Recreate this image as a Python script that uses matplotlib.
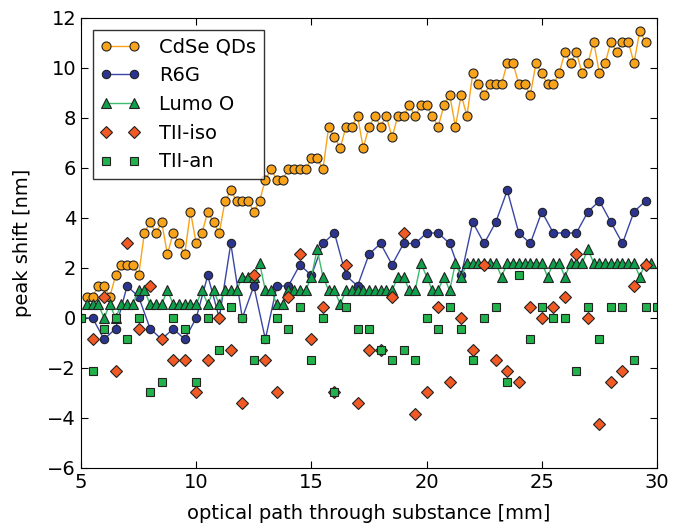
import numpy as np
import matplotlib
matplotlib.use("Agg")
import matplotlib.pyplot as plt

# optical path positions [mm] (regular sampling grids of the measurement)
x_cdse = np.arange(5.25, 29.51, 0.25)
x_lumo = np.arange(5.25, 29.76, 0.25)
x_r6g = np.arange(5.0, 29.51, 0.5)
x_iso = np.arange(5.5, 29.51, 0.5)
x_an = np.arange(5.0, 30.01, 0.5)

# peak shift [nm]
cdse = [0.85, 0.85, 1.28, 1.28, 0.85, 1.7, 2.13, 2.13,
        2.13, 1.7, 3.4, 3.83, 3.4, 3.83, 2.55, 3.4,
        2.98, 2.55, 4.25, 2.98, 3.4, 4.25, 3.83, 3.4,
        4.68, 5.1, 4.68, 4.68, 4.68, 4.25, 4.68, 5.53,
        5.95, 5.53, 5.53, 5.95, 5.95, 5.95, 5.95, 6.38,
        6.38, 5.95, 7.65, 7.23, 6.8, 7.65, 7.65, 8.08,
        6.8, 7.65, 8.08, 7.65, 8.08, 7.23, 8.08, 8.08,
        8.5, 8.08, 8.5, 8.5, 8.08, 7.65, 8.5, 8.93,
        7.65, 8.93, 8.08, 9.78, 9.35, 8.93, 9.35, 9.35,
        9.35, 10.2, 10.2, 9.35, 9.35, 8.93, 10.2, 9.78,
        9.35, 9.35, 9.78, 10.63, 10.2, 10.63, 9.78, 10.2,
        11.05, 9.78, 10.2, 11.05, 10.63, 11.05, 11.05, 10.2,
        11.48, 11.05]

r6g = [0, 0, -0.85, -0.43, 1.28, 0.85, -0.43, -0.85, -0.43, -0.85,
       0, 1.7, 0, 2.98, 0, 1.28, -0.85, 1.28, 1.28, 2.13,
       1.7, 2.98, 3.4, 1.7, 1.28, 2.55, 2.98, 2.13, 2.98, 2.98,
       3.4, 3.4, 2.98, 1.7, 3.83, 2.98, 3.83, 5.1, 3.4, 2.98,
       4.25, 3.4, 3.4, 3.4, 4.25, 4.68, 3.83, 2.98, 4.25, 4.68]

lumo = [0.55, 0.55, 0.55, 0, 0.55, 0, 0.55, 0.55,
        0.55, 1.1, 1.1, 0.55, 0.55, 0.55, 1.1, 0.55,
        0.55, 0.55, 0.55, 0.55, 1.1, 0.55, 1.1, 0.55,
        1.1, 1.1, 1.1, 1.65, 1.65, 1.65, 2.2, 1.1,
        1.1, 0.55, 0.55, 1.1, 1.1, 1.1, 1.1, 1.65,
        2.75, 1.65, 1.1, 1.1, 0.55, 1.1, 1.1, 1.1,
        1.1, 1.1, 1.1, 1.1, 1.1, 1.1, 1.65, 1.65,
        1.1, 1.1, 2.2, 1.65, 1.1, 1.1, 1.65, 1.1,
        2.2, 1.65, 2.2, 2.2, 2.2, 2.2, 2.2, 2.2,
        1.65, 2.2, 2.2, 2.2, 2.2, 2.2, 2.2, 2.2,
        1.65, 2.2, 2.2, 1.65, 2.2, 2.2, 2.2, 2.75,
        2.2, 2.2, 2.2, 2.2, 2.2, 2.2, 2.2, 2.2,
        1.65, 2.2, 2.2]

tii_iso = [-0.85, 0.85, -2.13, 2.98, -0.43, 1.28, -0.85, -1.7, -1.7, -2.98,
           -1.7, 0, -1.28, -3.4, 1.7, -1.7, -2.98, 0.85, 2.55, -0.85,
           0.43, -2.98, 2.13, -3.4, -1.28, -1.28, 0.85, 3.4, -3.83, -2.98,
           0.43, -2.55, 0, -1.28, 2.13, -1.7, -2.13, -2.55, 0.43, 0,
           0.43, 0.85, 2.55, 0, -4.25, -2.55, -2.13, 1.28, 2.13]

tii_an = [0, -2.13, -0.43, 0, -0.85, 0, -2.98, -2.55, 0, -0.43,
          -2.55, 0, -1.28, 0.43, 0, -1.7, -0.85, 0, -0.43, 0.43,
          -1.7, 0, -2.98, 0.43, -0.43, -0.43, -1.28, -1.7, -1.28, -1.7,
          0, -0.43, 0.43, -0.43, -1.7, 0, 0.43, -2.55, 1.7, -0.85,
          0.43, 0, 0, -2.13, 0.43, -0.85, 0.43, 0.43, -1.7, 0.43,
          0.43]

plt.rcParams['font.size'] = 14

fig = plt.figure(figsize=(6.89, 5.23), dpi=100)
ax = fig.add_axes([0.1176, 0.1052, 0.836, 0.8604])

ax.plot(x_cdse, cdse, '-o', color='#f9a31b', mfc='#f9a31b', mec='#222222',
        mew=0.8, ms=6.5, lw=1.0, label='CdSe QDs')
ax.plot(x_r6g, r6g, '-o', color='#3a46a6', mfc='#2b3590', mec='#222222',
        mew=0.8, ms=6, lw=1.0, label='R6G')
ax.plot(x_lumo, lumo, '-^', color='#3dbb6e', mfc='#0fa04c', mec='#222222',
        mew=0.8, ms=7, lw=1.0, label='Lumo O')
ax.plot(x_iso, tii_iso, 'D', color='#f15a24', mec='#222222',
        mew=0.8, ms=6, label='TII-iso')
ax.plot(x_an, tii_an, 's', color='#22b24c', mec='#222222',
        mew=0.8, ms=6, label='TII-an')

ax.set_xlim(5, 30)
ax.set_ylim(-6, 12)
ax.set_xticks(range(5, 31, 5))
ax.set_yticks(range(-6, 13, 2))
ax.tick_params(direction='in', top=True, right=True, length=5, labelsize=14)
ax.set_xlabel('optical path through substance [mm]', fontsize=14, labelpad=9)
ax.set_ylabel('peak shift [nm]', fontsize=14, labelpad=11)

leg = ax.legend(loc='upper left', numpoints=2, fontsize=14, fancybox=False,
                handlelength=2.0, handletextpad=1.0, labelspacing=0.5,
                borderaxespad=0.6)
leg.get_frame().set_edgecolor('black')
leg.get_frame().set_linewidth(1.0)

fig.savefig('out.png', dpi=100)
